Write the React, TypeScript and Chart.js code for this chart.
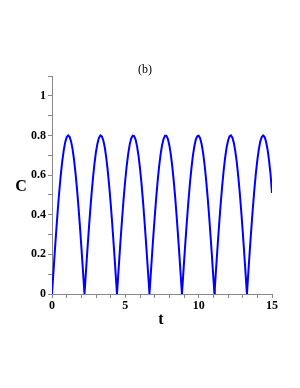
import React, { useEffect, useRef } from "react";
import { Chart, registerables } from "chart.js";

Chart.register(...registerables);

const tValues = [
  0, 0.1, 0.2, 0.3, 0.4, 0.5, 0.6, 0.7, 0.8, 0.9,
  1.0, 1.1, 1.2, 1.3, 1.4, 1.5, 1.6, 1.7, 1.8, 1.9,
  2.0, 2.1, 2.2, 2.215, 2.3, 2.4, 2.5, 2.6, 2.7, 2.8, 2.9,
  3.0, 3.1, 3.2, 3.3, 3.4, 3.5, 3.6, 3.7, 3.8, 3.9,
  4.0, 4.1, 4.2, 4.3, 4.4, 4.43, 4.5, 4.6, 4.7, 4.8, 4.9,
  5.0, 5.1, 5.2, 5.3, 5.4, 5.5, 5.6, 5.7, 5.8, 5.9,
  6.0, 6.1, 6.2, 6.3, 6.4, 6.5, 6.6, 6.645, 6.7, 6.8, 6.9,
  7.0, 7.1, 7.2, 7.3, 7.4, 7.5, 7.6, 7.7, 7.8, 7.9,
  8.0, 8.1, 8.2, 8.3, 8.4, 8.5, 8.6, 8.7, 8.8, 8.86, 8.9,
  9.0, 9.1, 9.2, 9.3, 9.4, 9.5, 9.6, 9.7, 9.8, 9.9,
  10.0, 10.1, 10.2, 10.3, 10.4, 10.5, 10.6, 10.7, 10.8, 10.9,
  11.0, 11.075, 11.1, 11.2, 11.3, 11.4, 11.5, 11.6, 11.7, 11.8, 11.9,
  12.0, 12.1, 12.2, 12.3, 12.4, 12.5, 12.6, 12.7, 12.8, 12.9,
  13.0, 13.1, 13.2, 13.29, 13.3, 13.4, 13.5, 13.6, 13.7, 13.8, 13.9,
  14.0, 14.1, 14.2, 14.3, 14.4, 14.5, 14.6, 14.7, 14.8, 14.9,
  15.0,
];

const cValues = [
  0, 0.113, 0.224, 0.33, 0.43, 0.521, 0.602, 0.67, 0.725, 0.766,
  0.791, 0.8, 0.793, 0.77, 0.732, 0.679, 0.613, 0.534, 0.444, 0.346,
  0.24, 0.13, 0.017, 0, 0.096, 0.208, 0.315, 0.416, 0.508, 0.59, 0.661,
  0.718, 0.76, 0.788, 0.8, 0.795, 0.775, 0.739, 0.688, 0.623, 0.546,
  0.458, 0.361, 0.256, 0.147, 0.034, 0, 0.079, 0.191, 0.299, 0.401, 0.495,
  0.579, 0.651, 0.71, 0.755, 0.785, 0.799, 0.797, 0.779, 0.745, 0.697,
  0.634, 0.559, 0.472, 0.376, 0.272, 0.163, 0.051, 0, 0.062, 0.174, 0.283,
  0.386, 0.481, 0.567, 0.641, 0.702, 0.749, 0.781, 0.798, 0.798, 0.783,
  0.751, 0.705, 0.644, 0.571, 0.486, 0.391, 0.288, 0.18, 0.068, 0, 0.045,
  0.158, 0.267, 0.371, 0.467, 0.555, 0.63, 0.694, 0.743, 0.778, 0.796,
  0.799, 0.786, 0.757, 0.713, 0.654, 0.582, 0.499, 0.406, 0.304, 0.197,
  0.085, 0, 0.028, 0.141, 0.251, 0.356, 0.454, 0.542, 0.62, 0.685, 0.737,
  0.773, 0.795, 0.8, 0.789, 0.762, 0.72, 0.664, 0.594, 0.512, 0.42,
  0.32, 0.213, 0.102, 0, 0.011, 0.124, 0.235, 0.34, 0.439, 0.529, 0.609,
  0.676, 0.73, 0.769, 0.792, 0.8, 0.792, 0.767, 0.728, 0.673, 0.605,
  0.51,
];

const xLabelTicks = [0, 5, 10, 15];
const yLabelTicks = [0, 0.2, 0.4, 0.6, 0.8, 1];

const titleText = "(b)";
const xTitle = "t";
const yTitle = "C";

const textPlugin = {
  id: "customText",
  afterDraw(chart: any) {
    const { ctx, chartArea } = chart;
    ctx.save();
    ctx.fillStyle = "#000";
    ctx.textAlign = "center";
    ctx.textBaseline = "middle";
    ctx.font = "12px 'Liberation Serif', serif";
    ctx.fillText(titleText, chartArea.left + 93, chartArea.top - 6);
    ctx.font = "bold 16px 'Liberation Serif', serif";
    ctx.fillText(yTitle, 13, (chartArea.top + chartArea.bottom) / 2 + 2);
    ctx.fillText(xTitle, (chartArea.left + chartArea.right) / 2 - 1, chartArea.bottom + 26);
    ctx.restore();
  },
};

export default function App() {
  const ref = useRef<HTMLCanvasElement | null>(null);
  useEffect(() => {
    if (!ref.current) return;
    const tickFont = { family: "'Liberation Serif', serif", size: 12, weight: "bold" as const };
    const chart = new Chart(ref.current, {
      type: "line",
      data: {
        datasets: [
          {
            data: tValues.map((t, i) => ({ x: t, y: cValues[i] })),
            borderColor: "#0000ff",
            borderWidth: 2,
            pointRadius: 0,
            tension: 0,
            fill: false,
          },
        ],
      },
      options: {
        animation: false,
        responsive: true,
        maintainAspectRatio: false,
        layout: { padding: { left: 0, right: 20, top: 68, bottom: 0 } },
        plugins: { legend: { display: false }, tooltip: { enabled: false }, title: { display: false } },
        scales: {
          x: {
            type: "linear",
            min: 0,
            max: 15,
            afterFit(scale: any) {
              scale.height = 86;
            },
            ticks: {
              stepSize: 1,
              autoSkip: false,
              maxRotation: 0,
              color: "#000",
              font: tickFont,
              padding: 1,
              callback: (v: any) => (xLabelTicks.includes(Math.round(Number(v) * 10) / 10) ? String(v) : ""),
            },
            grid: { drawOnChartArea: false, color: "#888", tickLength: 4 },
            border: { color: "#888", width: 1 },
          },
          y: {
            min: 0,
            max: 1.1,
            afterFit(scale: any) {
              scale.width = 44;
            },
            ticks: {
              stepSize: 0.1,
              autoSkip: false,
              color: "#000",
              font: tickFont,
              padding: 2,
              callback: (v: any) => {
                const r = Math.round(Number(v) * 10) / 10;
                return yLabelTicks.includes(r) ? String(r) : "";
              },
            },
            grid: { drawOnChartArea: false, color: "#888", tickLength: 4 },
            border: { color: "#888", width: 1 },
          },
        },
      },
      plugins: [textPlugin],
    });
    return () => chart.destroy();
  }, []);
  return (
    <div style={{ width: 284, height: 372, position: "relative" }}>
      <canvas ref={ref} />
    </div>
  );
}
